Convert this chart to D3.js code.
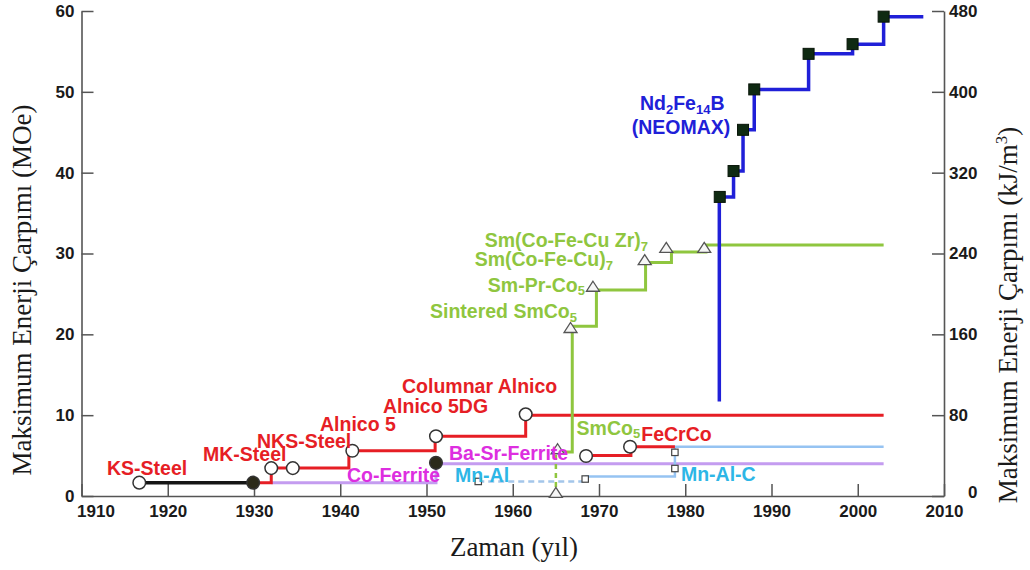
<!DOCTYPE html>
<html><head><meta charset="utf-8">
<script src="https://cdn.jsdelivr.net/npm/d3@7"></script>
<style>body{margin:0;background:#fff} text{font-family:Arial,"Liberation Sans",sans-serif}</style>
</head><body><svg id="c" width="1030" height="570"></svg>
<script>
// ---------- data ----------
const xTicks = [1910,1920,1930,1940,1950,1960,1970,1980,1990,2000,2010];
const yTicksLeft = [0,10,20,30,40,50,60];
const yTicksRight = [0,80,160,240,320,400,480];

// KS-Steel -> MK-Steel (black)
const ksYears = [1916.7, 1930];
const ksValues = [1.65, 1.65];
// Steel / Alnico family (red)
const alnicoYears = [1930, 1932, 1934.5, 1941, 1951, 1961.5, 2003];
const alnicoValues = [1.65, 3.45, 3.45, 5.6, 7.4, 10.0, 10.0];
const alnicoMarkerYears = [1932, 1934.5, 1941.4, 1951.1, 1961.5];
const alnicoMarkerValues = [3.45, 3.45, 5.6, 7.4, 10.1];
// FeCrCo (red)
const fecrcoYears = [1968.5, 1973.7, 1978.8];
const fecrcoValues = [5.0, 6.1, 6.1];
const fecrcoMarkerYears = [1968.5, 1973.6];
const fecrcoMarkerValues = [4.95, 6.1];
// Ferrites (purple)
const ferriteYears = [1932, 1951.1, 2003];
const ferriteValues = [1.65, 4.0, 4.0];
const filledMarkerYears = [1929.9, 1951.1];
const filledMarkerValues = [1.65, 4.1];
// Mn-Al (light blue)
const mnalDashYears = [1956, 1968.4];
const mnalDashValues = [1.8, 1.8];
const mnalYears = [1968.4, 1978.8, 2003];
const mnalValues = [2.4, 6.1, 6.1];
const mnalMarkerYears = [1956, 1968.4, 1978.8, 1978.8];
const mnalMarkerValues = [1.8, 2.1, 3.4, 5.4];
// SmCo (green)
const smDashYears = [1965, 1965];
const smDashValues = [0, 5.5];
const smYears = [1965.1, 1966.9, 1969.7, 1975.4, 1978.4, 1982.4, 2003];
const smValues = [5.45, 21.0, 25.5, 28.9, 30.2, 31.05, 31.05];
const smMarkerYears = [1965.0, 1965.2, 1966.7, 1969.3, 1975.3, 1977.8, 1982.2];
const smMarkerValues = [0.2, 5.6, 20.6, 25.7, 29.0, 30.5, 30.5];
// Nd2Fe14B (blue)
const ndYears = [1983.95, 1983.95, 1985.6, 1986.7, 1988.0, 1994.3, 1999.4, 2003.0, 2007.4];
const ndValues = [11.7, 37.0, 40.2, 45.3, 50.3, 54.7, 55.9, 59.3, 59.5];
const ndMarkerYears = [1984.0, 1985.6, 1986.7, 1988.0, 1994.3, 1999.4, 2003.0];
const ndMarkerValues = [37.0, 40.2, 45.3, 50.3, 54.7, 55.9, 59.3];

// labels: text ("|" toggles subscript), anchor year, anchor value, colour group, anchor side
const labelTexts = ["KS-Steel","MK-Steel","NKS-Steel","Alnico 5","Alnico 5DG","Columnar Alnico",
  "Co-Ferrite","Ba-Sr-Ferrite","Mn-Al","SmCo|5","FeCrCo","Mn-Al-C",
  "Sintered SmCo|5","Sm-Pr-Co|5","Sm(Co-Fe-Cu)|7","Sm(Co-Fe-Cu Zr)|7","Nd|2|Fe|14|B","(NEOMAX)"];
const labelYears = [1912.96,1924.09,1930.35,1937.65,1944.96,1947.16,
  1940.78,1952.61,1953.3,1967.4,1974.9,1979.5,
  1967.45,1968.38,1971.62,1975.68,1974.75,1973.8];
const labelValues = [2.6,4.33,5.95,8.0,10.27,12.74,
  1.73,4.45,1.73,7.55,6.8,1.86,
  22.0,25.24,28.45,30.8,47.75,44.75];
const labelGroups = ["red","red","red","red","red","red",
  "magenta","magenta","cyan","green","red","cyan",
  "green","green","green","green","blue","blue"];
const labelAnchors = ["start","start","start","start","start","start",
  "start","start","start","start","start","start",
  "end","end","end","end","start","start"];

const xTitle = "Zaman (yıl)";
const yTitleLeft = "Maksimum Enerji Çarpımı (MOe)";
const yTitleRightMain = "Maksimum Enerji Çarpımı (kJ/m";
const yTitleRightSup = "3";
const yTitleRightEnd = ")";

// ---------- drawing ----------
const colors = {red:"#e61e25", magenta:"#dd2ee0", cyan:"#2db6e6", green:"#8fc63f", blue:"#2020d8",
  black:"#151515", purple:"#c49cf0", lightblue:"#96c3f2"};
const svg = d3.select("#c");
const x = d3.scaleLinear().domain([1910,2010]).range([81.5,944]);
const y = d3.scaleLinear().domain([0,60]).range([496,11]);
const y2 = d3.scaleLinear().domain([0,480]).range([496,11]);

const zip = (a,b)=>a.map((v,i)=>[v,b[i]]);
const step = d3.line().x(d=>x(d[0])).y(d=>y(d[1])).curve(d3.curveStepAfter);
const straight = d3.line().x(d=>x(d[0])).y(d=>y(d[1]));

// axes
const axisStyle = g => {
  g.select(".domain").attr("stroke","#555").attr("stroke-width",1.6);
  g.selectAll(".tick line").attr("stroke","#555").attr("stroke-width",1.5);
  g.selectAll(".tick text").attr("font-size",17).attr("font-weight","bold").attr("fill","#1a1a1a")
    .attr("font-family","Arial, 'Liberation Sans', sans-serif");
};
const gx = svg.append("g").attr("transform","translate(0,496)")
  .call(d3.axisBottom(x).tickValues(xTicks).tickFormat(d3.format("d")).tickSize(-12).tickSizeOuter(0).tickPadding(9))
  .call(axisStyle);
gx.selectAll(".tick text").filter(d=>d===1910).attr("dx",14);
const gl = svg.append("g").attr("transform","translate(81.5,0)")
  .call(d3.axisLeft(y).tickValues(yTicksLeft).tickSize(-12).tickSizeOuter(0).tickPadding(7))
  .call(axisStyle);
const gr = svg.append("g").attr("transform","translate(944,0)")
  .call(d3.axisRight(y2).tickValues(yTicksRight).tickSize(-12).tickSizeOuter(0).tickPadding(5))
  .call(axisStyle);
gr.selectAll(".tick text").filter(d=>d===0).attr("dx",19).attr("dy","0.1em");

// lines
const path = (pts, gen, col, w, dash) => svg.append("path").attr("d", gen(pts)).attr("fill","none")
  .attr("stroke", col).attr("stroke-width", w).attr("stroke-dasharray", dash||null);

path(zip(ferriteYears,ferriteValues), step, colors.purple, 3);
path(zip(mnalDashYears,mnalDashValues), straight, "#a4c6ea", 2.5, "6,4");
path(zip(mnalYears,mnalValues), step, colors.lightblue, 2.5);
path(zip(ksYears,ksValues), straight, colors.black, 3.5);
path(zip(alnicoYears,alnicoValues), step, colors.red, 3);
path(zip(fecrcoYears,fecrcoValues), step, colors.red, 3);
path(zip(smDashYears,smDashValues), straight, colors.green, 2.5, "5,4");
path(zip(smYears,smValues), step, colors.green, 3);
path(zip(ndYears,ndValues), step, colors.blue, 3.5);

// markers
const circ = (yr, vl, fill) => svg.append("g").selectAll("circle").data(zip(yr,vl)).join("circle")
  .attr("cx",d=>x(d[0])).attr("cy",d=>y(d[1])).attr("r",6.3)
  .attr("fill",fill).attr("stroke","#333").attr("stroke-width",1.5);
circ([ksYears[0]],[ksValues[0]],"#fff");
circ(alnicoMarkerYears, alnicoMarkerValues, "#fff");
circ(fecrcoMarkerYears, fecrcoMarkerValues, "#fff");
circ(filledMarkerYears, filledMarkerValues, "#2b2a1a");

svg.append("g").selectAll("rect").data(zip(mnalMarkerYears,mnalMarkerValues)).join("rect")
  .attr("x",d=>x(d[0])-3.2).attr("y",d=>y(d[1])-3.2).attr("width",6.4).attr("height",6.4)
  .attr("fill","#fff").attr("stroke","#444").attr("stroke-width",1.2);

svg.append("g").selectAll("path").data(zip(smMarkerYears,smMarkerValues)).join("path")
  .attr("d",d=>{const cx=x(d[0]), cy=y(d[1]); return `M${cx},${cy-7}L${cx+6.5},${cy+3}L${cx-6.5},${cy+3}Z`;})
  .attr("fill","#f6f6f6").attr("stroke","#555").attr("stroke-width",1.3);

svg.append("g").selectAll("rect").data(zip(ndMarkerYears,ndMarkerValues)).join("rect")
  .attr("x",d=>x(d[0])-5.5).attr("y",d=>y(d[1])-5.5).attr("width",11).attr("height",11)
  .attr("fill","#0f2a12").attr("stroke","#081408").attr("stroke-width",1);

// labels
const FS = 19.5, SUB = 13;
labelTexts.forEach((t,i)=>{
  const parts = t.split("|");
  const txt = svg.append("text").attr("x",x(labelYears[i])).attr("y",y(labelValues[i]))
    .attr("text-anchor",labelAnchors[i])
    .attr("font-size",FS).attr("font-weight","bold").attr("fill",colors[labelGroups[i]]);
  parts.forEach((p,j)=>{
    const sub = j%2===1;
    txt.append("tspan").text(p).attr("font-size", sub?SUB:FS)
      .attr("dy", j===0?0:(sub?3.5:-3.5));
  });
});

// axis titles
const serif = "'Liberation Serif','Times New Roman',serif";
svg.append("text").attr("x",514).attr("y",556).attr("text-anchor","middle")
  .style("font-family",serif).attr("font-size",27).attr("fill","#1a1a1a").text(xTitle);
svg.append("text").attr("transform","translate(31,290) rotate(-90)").attr("text-anchor","middle")
  .style("font-family",serif).attr("font-size",27).attr("fill","#1a1a1a").text(yTitleLeft);
const rt = svg.append("text").attr("transform","translate(1017,315) rotate(-90)").attr("text-anchor","middle")
  .style("font-family",serif).attr("font-size",27).attr("fill","#1a1a1a");
rt.append("tspan").text(yTitleRightMain);
rt.append("tspan").text(yTitleRightSup).attr("font-size",17).attr("dy",-10);
rt.append("tspan").text(yTitleRightEnd).attr("dy",10);
</script></body></html>
